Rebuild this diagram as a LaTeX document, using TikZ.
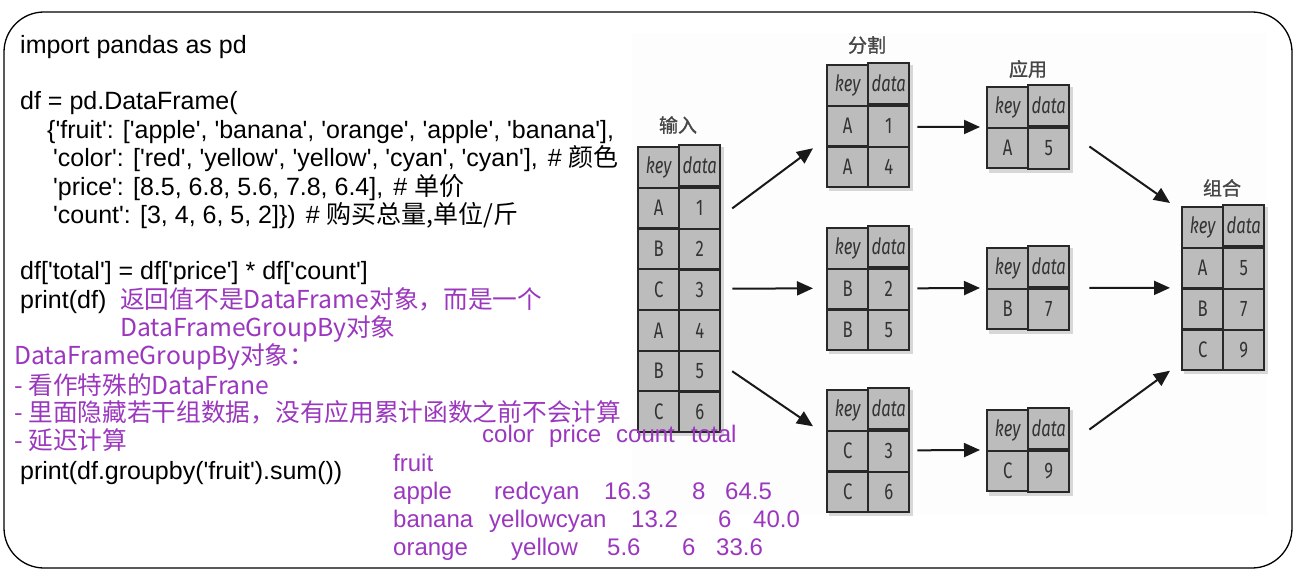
\documentclass[tikz,border=0pt]{standalone}
\usepackage{fontspec}
\setmainfont{Liberation Sans}[Ligatures=TeXOff]
\newfontfamily\cjk{Noto Sans CJK SC}
\newfontfamily\cjklab{Noto Sans CJK SC}[FakeBold=1.2]
\newfontfamily\tabfont{Fira Sans}[FakeStretch=0.74]
\usetikzlibrary{matrix,positioning,shadows,arrows.meta}
\definecolor{notecol}{RGB}{155,55,190}
\definecolor{cellfill}{RGB}{188,188,188}
\definecolor{cellline}{RGB}{40,40,40}
\definecolor{labgray}{RGB}{70,70,70}
\tikzset{
  codetxt/.style={anchor=base west, inner sep=0pt, font=\fontsize{25}{28}\selectfont},
  notetxt/.style={anchor=west, inner sep=0pt, text=notecol, font=\cjk\fontsize{24.7}{28}\selectfont},
  outtxt/.style={anchor=base west, inner sep=0pt, text=notecol, font=\fontsize{24}{28}\selectfont},
  steplabel/.style={inner sep=0pt, text=labgray, font=\cjklab\fontsize{19}{19}\selectfont},
  gtable/.style={matrix of nodes, inner sep=0pt, column sep=-2pt, row sep=-2pt, anchor=north west,
    drop shadow={shadow xshift=3pt, shadow yshift=-3pt, opacity=0.3},
    nodes={draw=cellline, fill=cellfill, line width=2pt, minimum width=41pt, minimum height=40.5pt,
      inner sep=0pt, text=black!80, font=\tabfont\fontsize{22.5}{22.5}\selectfont},
    row 1/.style={nodes={font=\tabfont\itshape\fontsize{22.5}{22.5}\selectfont}}},
  flow/.style={line width=2pt, draw=black!90, -{Triangle[length=16pt,width=14pt]}}
}
\begin{document}
\begin{tikzpicture}[x=1pt,y=1pt]
    \useasboundingbox (0,0) rectangle (1299,-575);
    \draw [line width=1.3pt, rounded corners=40pt] (4,-12) rectangle (1292,-568);
    \fill [black!0.6] (632,-33) rectangle (1267,-515);

    \node [codetxt] (l1) at (20,-54) {import pandas as pd};
    \node [codetxt] (l2) at (20,-110) {df = pd.DataFrame(};
    \node [codetxt] (l3) at (47,-139) {\{'fruit': ['apple', 'banana', 'orange', 'apple', 'banana'],};
    \node [codetxt] (l4) at (53,-167) {'color': ['red', 'yellow', 'yellow', 'cyan', 'cyan'],\hspace{.4em}\# {\cjk 颜色}};
    \node [codetxt] (l5) at (53,-195) {'price': [8.5, 6.8, 5.6, 7.8, 6.4],\hspace{.4em}\# {\cjk 单价}};
    \node [codetxt] (l6) at (53,-223) {'count': [3, 4, 6, 5, 2]\})\hspace{.4em}\# {\cjk 购买总量,单位/斤}};
    \node [codetxt] (l7) at (20,-279) {df['total'] = df['price'] * df['count']};
    \node [codetxt] (l8) at (20,-308) {print(df)};
    \node [codetxt] (l9) at (20,-479) {print(df.groupby('fruit').sum())};

    \node [notetxt] (n1) at (120,-299) {返回值不是DataFrame对象，而是一个};
    \node [notetxt] (n2) at (120,-329) {DataFrameGroupBy对象};
    \node [notetxt] (n3) at (14,-357) {DataFrameGroupBy对象：};
    \node [notetxt] (n4) at (14,-385) {- 看作特殊的DataFrane};
    \node [notetxt] (n5) at (14,-412) {- 里面隐藏若干组数据，没有应用累计函数之前不会计算};
    \node [notetxt] (n6) at (14,-440) {- 延迟计算};

    \node [steplabel] (lin) at (678,-125) {输入};
    \node [steplabel] (lsplit) at (867,-45) {分割};
    \node [steplabel] (lapply) at (1028,-69) {应用};
    \node [steplabel] (lcomb) at (1222,-188) {组合};

    \matrix (input) [gtable] at (637,-144) {
      key & data \\ A & 1 \\ B & 2 \\ C & 3 \\ A & 4 \\ B & 5 \\ C & 6 \\};
    \matrix (s1) [gtable] at (826,-62) {key & data \\ A & 1 \\ A & 4 \\};
    \matrix (s2) [gtable] at (826,-225) {key & data \\ B & 2 \\ B & 5 \\};
    \matrix (s3) [gtable] at (826,-387) {key & data \\ C & 3 \\ C & 6 \\};
    \matrix (a1) [gtable] at (986,-84) {key & data \\ A & 5 \\};
    \matrix (a2) [gtable] at (986,-245) {key & data \\ B & 7 \\};
    \matrix (a3) [gtable] at (986,-407) {key & data \\ C & 9 \\};
    \matrix (c) [gtable] at (1181,-204) {key & data \\ A & 5 \\ B & 7 \\ C & 9 \\};

    \draw [flow] ([xshift=11pt]input-2-2.east) -- ([xshift=-13pt,yshift=-23pt]s1.west);
    \draw [flow] ([xshift=11pt]input.east) -- ([xshift=-13pt]s2.west);
    \draw [flow] ([xshift=11pt]input-6-2.east) -- ([xshift=-13pt,yshift=24pt]s3.west);
    \draw [flow] ([xshift=7pt,yshift=-1.75pt]s1.east) -- ([xshift=-6pt]a1.west);
    \draw [flow] ([xshift=7pt]s2.east) -- ([xshift=-6pt]a2.west);
    \draw [flow] ([xshift=7pt]s3.east) -- ([xshift=-6pt]a3.west);
    \draw [flow] ([xshift=19pt,yshift=-19.5pt]a1.east) -- ([xshift=-11pt,yshift=1pt]c.north west);
    \draw [flow] ([xshift=19pt]a2.east) -- ([xshift=-11pt]c.west);
    \draw [flow] ([xshift=19pt,yshift=20.5pt]a3.east) -- ([xshift=-11pt,yshift=1pt]c.south west);

    \foreach \x/\y/\t [count=\i] in {482/442/color, 549/442/price, 616/442/count, 691/442/total,
        393/471/fruit,
        393/499/apple, 494/499/redcyan, 604/499/16.3, 692/499/8, 725/499/64.5,
        393/527/banana, 489/527/yellowcyan, 631/527/13.2, 718/527/6, 753/527/40.0,
        393/555/orange, 511/555/yellow, 607/555/5.6, 682/555/6, 716/555/33.6}
      \node [outtxt] (o\i) at (\x,-\y) {\t};
\end{tikzpicture}
\end{document}
